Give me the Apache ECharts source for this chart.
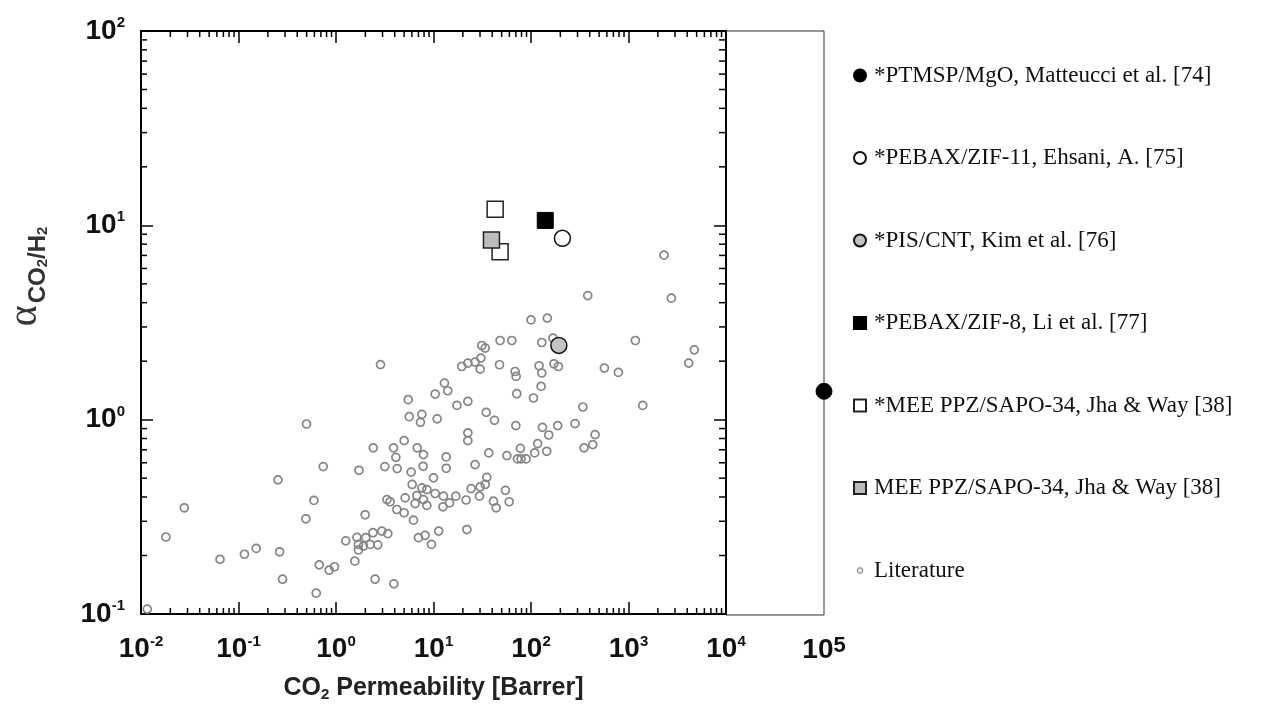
<!DOCTYPE html>
<html><head><meta charset="utf-8">
<script src="https://cdn.jsdelivr.net/npm/echarts@6/dist/echarts.min.js"></script>
<style>html,body{margin:0;padding:0;background:#fff}#c{width:1262px;height:707px}</style>
</head><body><div id="c"></div>
<script>
// ---- data (CO2 permeability [Barrer], CO2/H2 selectivity) ----
const litX = [0.0116,0.018,0.0278,0.0646,0.115,0.152,0.254,0.264,0.283,0.499,
0.491,0.594,0.74,0.673,0.627,0.851,0.965,1.26,1.56,1.72,
1.99,2.41,2.86,2.52,3.92,3.17,3.89,4.11,4.24,3.33,
3.59,4.21,5.0,5.0,5.5,5.63,5.9,6.04,5.12,1.64,
2.02,2.39,2.95,3.4,1.7,1.91,2.24,2.68,1.7,6.8,
7.89,7.6,7.35,10.9,10.4,12.95,14.0,17.4,22.5,19.5,
22.5,22.5,22.5,13.5,13.5,7.83,10.0,6.75,7.6,8.55,
7.89,10.4,12.65,16.95,21.6,6.48,8.55,12.5,14.6,6.23,
22.0,11.3,7.01,8.21,9.53,26.7,382,100,147,48.2,
63.6,129,168,31.3,33.9,26.7,30.6,30.1,47.5,68.7,
70.4,121,129,172,191,71.5,127,106,34.7,42.2,
69.9,131,152,188,283,340,454,430,350,36.9,
56.5,72.6,79.1,89.1,77.8,109,117,145,35.2,33.9,
30.1,24.3,29.6,54.7,59.7,41.2,43.9,2315,2750,1176,
4732,4146,566,787,1400];
const litY = [0.106,0.249,0.352,0.191,0.203,0.2175,0.49,0.209,0.151,0.95,
0.309,0.384,0.5735,0.179,0.128,0.168,0.175,0.238,0.187,0.549,
0.324,0.716,1.92,0.151,0.143,0.5735,0.716,0.64,0.56,0.388,
0.378,0.345,0.332,0.78,1.267,1.036,0.5375,0.464,0.396,0.248,
0.247,0.262,0.267,0.259,0.228,0.2235,0.228,0.227,0.2136,0.716,
0.661,1.065,0.969,1.01,1.355,1.543,1.409,1.184,1.242,1.878,
1.955,0.855,0.78,0.643,0.562,0.5755,0.502,0.407,0.446,0.437,
0.388,0.417,0.404,0.404,0.386,0.37,0.362,0.356,0.373,0.304,
0.272,0.267,0.247,0.254,0.228,0.587,4.35,3.26,3.33,2.555,
2.555,2.495,2.628,2.408,2.335,1.979,2.074,1.821,1.917,1.77,
1.669,1.894,1.738,1.939,1.878,1.36,1.483,1.293,1.09,0.992,
0.932,0.913,0.834,0.932,0.954,1.162,0.8375,0.744,0.716,0.6745,
0.653,0.628,0.628,0.628,0.712,0.6745,0.753,0.6875,0.505,0.464,
0.451,0.442,0.404,0.433,0.378,0.3805,0.352,7.02,4.22,2.555,
2.288,1.955,1.843,1.75,1.184];

const ptmspX = [1e5],     ptmspY = [1.41];
const zif11X = [210],     zif11Y = [8.58];
const pisX   = [193],     pisY   = [2.41];
const zif8X  = [140],     zif8Y  = [10.6];
const meeStarX = [42.9, 48.2], meeStarY = [12.1, 7.32];
const meeX   = [39.3],    meeY   = [8.4];

const seriesNames = ['*PTMSP/MgO, Matteucci et al. [74]','*PEBAX/ZIF-11, Ehsani, A. [75]',
  '*PIS/CNT, Kim et al. [76]','*PEBAX/ZIF-8, Li et al. [77]',
  '*MEE PPZ/SAPO-34, Jha & Way [38]','MEE PPZ/SAPO-34, Jha & Way [38]','Literature'];

const xMin = 0.01, xMax = 1e4, xMax2 = 1e5, yMin = 0.1, yMax = 100;
const xMinorTicks = [], yMinorTicks = [];
for (let e = -2; e <= 3; e++) for (let m = 2; m <= 9; m++) xMinorTicks.push(m * Math.pow(10, e));
for (let e = -1; e <= 1; e++) for (let m = 2; m <= 9; m++) yMinorTicks.push(m * Math.pow(10, e));

const zip = (a, b) => a.map((v, i) => [v, b[i]]);

const powLabel = v => '{b|10}{s|' + Math.round(Math.log10(v)) + '}';
const labelRich = {
  b: {fontSize: 28, fontWeight: 'bold', fontFamily: 'Liberation Sans', color: '#111', lineHeight: 31},
  s: {fontSize: 15, fontWeight: 'bold', fontFamily: 'Liberation Sans', color: '#111', lineHeight: 16, verticalAlign: 'top'},
  s5: {fontSize: 22, fontWeight: 'bold', fontFamily: 'Liberation Sans', color: '#111', lineHeight: 23, verticalAlign: 'top'}
};

const litIcon = 'image://data:image/svg+xml;charset=utf-8,' + encodeURIComponent(
  '<svg xmlns="http://www.w3.org/2000/svg" width="12" height="12"><circle cx="6" cy="6" r="2.6" fill="none" stroke="#888" stroke-width="1.2"/></svg>');

const chart = echarts.init(document.getElementById('c'), null, {renderer: 'canvas'});
const axisLineStyle = {color: '#000', width: 2};

const option = {
  animation: false,
  backgroundColor: '#fff',
  grid: [
    {left: 141, top: 31, width: 585, height: 584, containLabel: false},
    {left: 726, top: 31, width: 98, height: 584, show: true, borderWidth: 1, borderColor: '#333', backgroundColor: 'transparent'}
  ],
  legend: {
    orient: 'vertical', left: 848, top: 59, itemWidth: 12, itemHeight: 12, itemGap: 59.5,
    textStyle: {fontFamily: 'Liberation Serif', fontSize: 23, color: '#111', lineHeight: 22, padding: [0, 0, 0, 3]},
    data: [
      {name: seriesNames[0]}, {name: seriesNames[1]}, {name: seriesNames[2]}, {name: seriesNames[3]},
      {name: seriesNames[4]}, {name: seriesNames[5]}, {name: seriesNames[6], icon: litIcon}
    ]
  },
  xAxis: [
    {type: 'log', logBase: 10, gridIndex: 0, min: xMin, max: xMax, position: 'bottom',
     axisLine: {onZero: false, lineStyle: axisLineStyle},
     axisTick: {inside: true, length: 12, lineStyle: {color: '#000', width: 1.5}},
     axisLabel: {margin: 20, formatter: powLabel, rich: labelRich},
     splitLine: {show: false},
     name: '{t|CO}{u|2}{t| Permeability [Barrer]}', nameLocation: 'middle', nameGap: 60,
     nameTextStyle: {rich: {
       t: {fontSize: 25, fontWeight: 'bold', fontFamily: 'Liberation Sans', color: '#222', lineHeight: 28},
       u: {fontSize: 15, fontWeight: 'bold', fontFamily: 'Liberation Sans', color: '#222', lineHeight: 16, verticalAlign: 'bottom'}
     }}},
    {type: 'log', logBase: 10, gridIndex: 0, min: xMin, max: xMax, position: 'top',
     axisLine: {onZero: false, lineStyle: axisLineStyle},
     axisTick: {inside: true, length: 12, lineStyle: {color: '#000', width: 1.5}},
     axisLabel: {show: false}, splitLine: {show: false}},
    {type: 'log', logBase: 10, gridIndex: 1, min: xMax, max: xMax2, position: 'bottom',
     axisLine: {show: false}, axisTick: {show: false}, splitLine: {show: false},
     axisLabel: {margin: 20, showMinLabel: false, formatter: v => v >= xMax2 * 0.99 ? '{b|10}{s5|5}' : '', rich: labelRich}}
  ],
  yAxis: [
    {type: 'log', logBase: 10, gridIndex: 0, min: yMin, max: yMax, position: 'left',
     axisLine: {onZero: false, lineStyle: axisLineStyle},
     axisTick: {inside: true, length: 12, lineStyle: {color: '#000', width: 1.5}},
     axisLabel: {margin: 16, formatter: powLabel, rich: labelRich},
     splitLine: {show: false},
     name: '{a|α}{s|CO}{ss|2}{s|/H}{ss|2}', nameLocation: 'middle', nameRotate: 90, nameGap: 91,
     nameTextStyle: {rich: {
       a: {fontSize: 40, fontFamily: 'Liberation Serif', color: '#333', lineHeight: 50, verticalAlign: 'middle', padding: [0, 2, 0, 92]},
       s: {fontSize: 24, fontWeight: 'bold', fontFamily: 'Liberation Sans', color: '#333', lineHeight: 30, verticalAlign: 'bottom'},
       ss: {fontSize: 15, fontWeight: 'bold', fontFamily: 'Liberation Sans', color: '#333', lineHeight: 14, verticalAlign: 'bottom'}
     }}},
    {type: 'log', logBase: 10, gridIndex: 0, min: yMin, max: yMax, position: 'right',
     axisLine: {onZero: false, lineStyle: axisLineStyle},
     axisTick: {inside: true, length: 12, lineStyle: {color: '#000', width: 1.5}},
     axisLabel: {show: false}, splitLine: {show: false}},
    {type: 'log', logBase: 10, gridIndex: 1, min: yMin, max: yMax, show: false}
  ],
  series: [
    {name: seriesNames[6], type: 'scatter', xAxisIndex: 0, yAxisIndex: 0, data: zip(litX, litY),
     symbol: 'circle', symbolSize: 8, clip: false, z: 2,
     itemStyle: {color: 'rgba(255,255,255,0)', borderColor: '#858585', borderWidth: 1.7, opacity: 1}},
    {name: seriesNames[0], type: 'scatter', xAxisIndex: 2, yAxisIndex: 2, data: zip(ptmspX, ptmspY),
     symbol: 'circle', symbolSize: 16, clip: false, z: 5,
     itemStyle: {color: '#000', borderColor: '#000', borderWidth: 1, opacity: 1}},
    {name: seriesNames[1], type: 'scatter', xAxisIndex: 0, yAxisIndex: 0, data: zip(zif11X, zif11Y),
     symbol: 'circle', symbolSize: 16, clip: false, z: 5,
     itemStyle: {color: '#fff', borderColor: '#111', borderWidth: 1.5, opacity: 1}},
    {name: seriesNames[2], type: 'scatter', xAxisIndex: 0, yAxisIndex: 0, data: zip(pisX, pisY),
     symbol: 'circle', symbolSize: 16, clip: false, z: 5,
     itemStyle: {color: '#c4c4c4', borderColor: '#111', borderWidth: 1.5, opacity: 1}},
    {name: seriesNames[3], type: 'scatter', xAxisIndex: 0, yAxisIndex: 0, data: zip(zif8X, zif8Y),
     symbol: 'rect', symbolSize: 16, clip: false, z: 5,
     itemStyle: {color: '#000', borderColor: '#000', borderWidth: 1, opacity: 1}},
    {name: seriesNames[4], type: 'scatter', xAxisIndex: 0, yAxisIndex: 0, data: zip(meeStarX, meeStarY),
     symbol: 'rect', symbolSize: 16, clip: false, z: 5,
     itemStyle: {color: '#fff', borderColor: '#222', borderWidth: 1.5, opacity: 1}},
    {name: seriesNames[5], type: 'scatter', xAxisIndex: 0, yAxisIndex: 0, data: zip(meeX, meeY),
     symbol: 'rect', symbolSize: 16, clip: false, z: 6,
     itemStyle: {color: '#bcbcbc', borderColor: '#222', borderWidth: 1.5, opacity: 1}},
    {name: 'xMinorTicks', type: 'custom', xAxisIndex: 0, yAxisIndex: 0, silent: true, clip: false, z: 10,
     data: xMinorTicks.map(v => [v, 1]),
     renderItem: (params, api) => {
       const v = api.value(0);
       const b = api.coord([v, yMin]), t = api.coord([v, yMax]);
       return {type: 'group', children: [
         {type: 'line', shape: {x1: b[0], y1: b[1], x2: b[0], y2: b[1] - 6}, style: {stroke: '#000', lineWidth: 1.5}},
         {type: 'line', shape: {x1: t[0], y1: t[1], x2: t[0], y2: t[1] + 6}, style: {stroke: '#000', lineWidth: 1.5}}
       ]};
     }},
    {name: 'yMinorTicks', type: 'custom', xAxisIndex: 0, yAxisIndex: 0, silent: true, clip: false, z: 10,
     data: yMinorTicks.map(v => [1, v]),
     renderItem: (params, api) => {
       const v = api.value(1);
       const l = api.coord([xMin, v]), r = api.coord([xMax, v]);
       return {type: 'group', children: [
         {type: 'line', shape: {x1: l[0], y1: l[1], x2: l[0] + 6, y2: l[1]}, style: {stroke: '#000', lineWidth: 1.5}},
         {type: 'line', shape: {x1: r[0], y1: r[1], x2: r[0] - 7, y2: r[1]}, style: {stroke: '#000', lineWidth: 1.5}}
       ]};
     }}
  ]
};
chart.setOption(option);
</script>
</body></html>
